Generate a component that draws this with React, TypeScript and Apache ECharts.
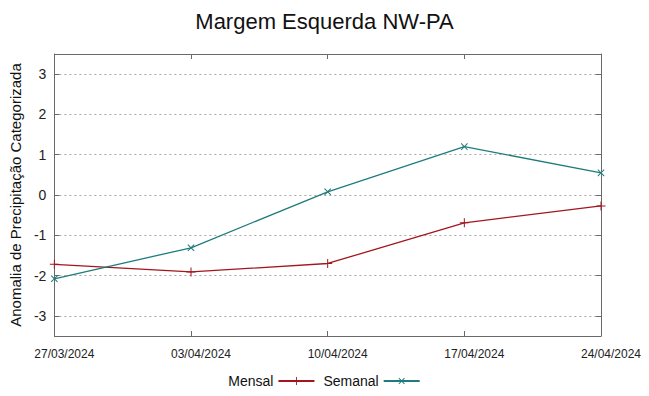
import React, { useEffect, useRef } from "react";
import * as echarts from "echarts";

const categories = ["27/03/2024", "03/04/2024", "10/04/2024", "17/04/2024", "24/04/2024"];
const mensal = [-1.72, -1.91, -1.7, -0.69, -0.27];
const semanal = [-2.08, -1.31, 0.08, 1.2, 0.55];
const yTicks = [-3, -2, -1, 0, 1, 2, 3];

const PLUS = "path://M4,0H5V4H9V5H5V9H4V5H0V4H4Z";
const FONT = "Liberation Sans, Arial, sans-serif";

export default function App() {
  const ref = useRef<HTMLDivElement>(null);
  useEffect(() => {
    if (!ref.current) return;
    const chart = echarts.init(ref.current, null, { renderer: "svg" });
    const axisColor = "#6a6a6a";
    chart.setOption({
      animation: false,
      backgroundColor: "#ffffff",
      textStyle: { fontFamily: FONT },
      title: {
        text: "Margem Esquerda NW-PA",
        left: "center",
        top: 5,
        textStyle: { fontSize: 22, fontWeight: "normal", color: "#111", fontFamily: FONT },
      },
      grid: { left: 50, right: 48, top: 54, bottom: 60, containLabel: false },
      legend: {
        bottom: 3,
        left: "center",
        align: "right",
        itemWidth: 36,
        itemHeight: 10,
        itemGap: 8,
        textStyle: { fontSize: 14, color: "#111", fontFamily: FONT },
        data: ["Mensal", "Semanal"],
      },
      xAxis: [
        {
          type: "category",
          data: categories,
          boundaryGap: false,
          position: "bottom",
          axisLine: { onZero: false, lineStyle: { color: axisColor, width: 1 } },
          axisTick: { inside: true, length: 5, lineStyle: { color: axisColor } },
          axisLabel: {
            fontSize: 12,
            color: "#222",
            margin: 12,
            padding: [0, 0, 0, 20],
            fontFamily: FONT,
          },
          splitLine: { show: false },
        },
        {
          type: "category",
          data: categories,
          boundaryGap: false,
          position: "top",
          axisLine: { onZero: false, lineStyle: { color: axisColor, width: 1 } },
          axisTick: { inside: true, length: 5, lineStyle: { color: axisColor } },
          axisLabel: { show: false },
          splitLine: { show: false },
        },
      ],
      yAxis: [
        {
          type: "value",
          min: -3.5,
          max: 3.5,
          position: "left",
          name: "Anomalia de Precipitação Categorizada",
          nameLocation: "middle",
          nameGap: 20,
          nameTextStyle: { fontSize: 15, color: "#111", fontFamily: FONT },
          axisLine: { show: true, onZero: false, lineStyle: { color: axisColor, width: 1 } },
          axisTick: { show: true, inside: true, length: 5, customValues: yTicks, lineStyle: { color: axisColor } },
          axisLabel: { fontSize: 14, color: "#222", margin: 8, customValues: yTicks },
          splitLine: { show: true, lineStyle: { color: "#a8a8a8", type: [2, 3], width: 1 } },
        },
        {
          type: "value",
          min: -3.5,
          max: 3.5,
          position: "right",
          axisLine: { show: true, onZero: false, lineStyle: { color: axisColor, width: 1 } },
          axisTick: { show: true, inside: true, length: 5, customValues: yTicks, lineStyle: { color: axisColor } },
          axisLabel: { show: false, customValues: yTicks },
          splitLine: { show: false },
        },
      ],
      series: [
        {
          name: "Mensal",
          type: "line",
          data: mensal,
          xAxisIndex: 0,
          yAxisIndex: 0,
          symbol: PLUS,
          symbolSize: 9,
          showAllSymbol: true,
          lineStyle: { color: "#a3161e", width: 1.3 },
          itemStyle: { color: "#a3161e" },
        },
        {
          name: "Semanal",
          type: "line",
          data: semanal,
          xAxisIndex: 0,
          yAxisIndex: 0,
          symbol: PLUS,
          symbolRotate: 45,
          symbolSize: 9,
          showAllSymbol: true,
          lineStyle: { color: "#1f7c7c", width: 1.3 },
          itemStyle: { color: "#1f7c7c" },
        },
      ],
    });
    return () => chart.dispose();
  }, []);
  return <div ref={ref} style={{ width: 649, height: 396, position: "absolute", left: 0, top: 0 }} />;
}
